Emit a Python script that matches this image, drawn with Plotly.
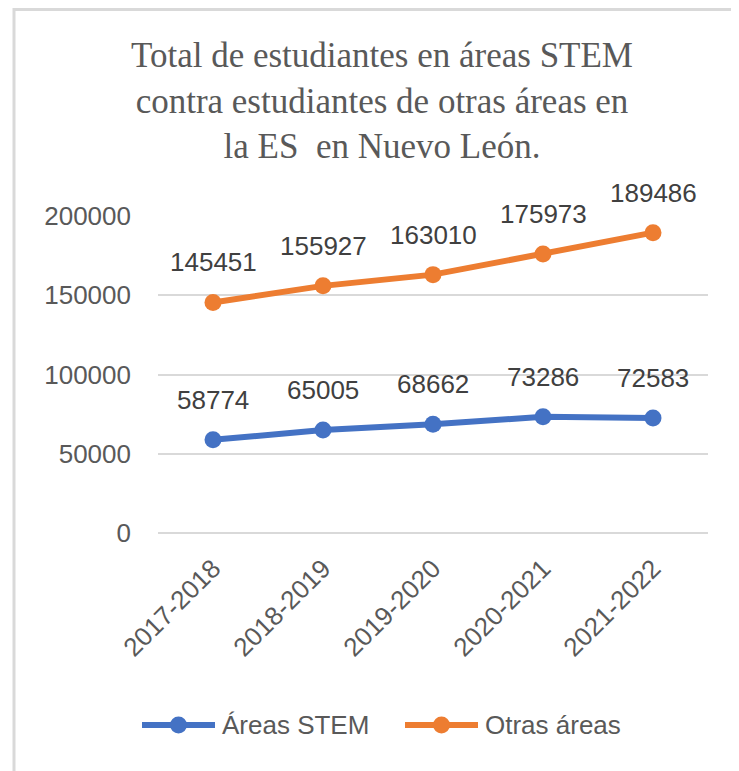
import plotly.graph_objects as go

# Data
periodos = ["2017-2018", "2018-2019", "2019-2020", "2020-2021", "2021-2022"]
areas_stem = [58774, 65005, 68662, 73286, 72583]
otras_areas = [145451, 155927, 163010, 175973, 189486]
y_ticks = [0, 50000, 100000, 150000, 200000]

AZUL = "#4472C4"
NARANJA = "#ED7D31"
GRIS_TEXTO = "#595959"
GRIS_LINEA = "#D9D9D9"
FUENTE = "Liberation Sans, Arial, sans-serif"

# the page puts the figure 8px in from the top-left corner
W, H = 731, 763
L, R, T, B = 150, 31, 208, 238
plot_w = W - L - R
plot_h = H - T - B


def px_x(x):
    return (x - L) / plot_w


def px_y(y):
    return (H - B - y) / plot_h


fig = go.Figure()
shapes = []

# Marco gris del gráfico (borde superior e izquierdo visibles)
shapes.append(dict(
    type="rect", xref="paper", yref="paper",
    x0=px_x(6), x1=px_x(W + 20),
    y0=px_y(H + 20), y1=px_y(1.5),
    line=dict(color=GRIS_LINEA, width=3),
    fillcolor="rgba(0,0,0,0)",
    layer="below",
))

series = [("Áreas STEM", areas_stem, AZUL, 134),
          ("Otras áreas", otras_areas, NARANJA, 397)]

for nombre, valores, color, leg_x in series:
    fig.add_trace(go.Scatter(
        x=periodos,
        y=valores,
        name=nombre,
        mode="lines+markers",
        line=dict(color=color, width=6),
        marker=dict(color=color, size=17),
        cliponaxis=False,
        showlegend=False,
    ))
    # Etiquetas de datos encima de cada punto
    for x, v in zip(periodos, valores):
        fig.add_annotation(
            x=x, y=v, text=str(v),
            showarrow=False, yshift=40,
            font=dict(family=FUENTE, size=26, color="#404040"),
        )

    # Leyenda dibujada a mano (línea larga con marcador como en Excel)
    leg_y = 717
    shapes.append(dict(
        type="line", xref="paper", yref="paper",
        x0=px_x(leg_x), x1=px_x(leg_x + 73),
        y0=px_y(leg_y), y1=px_y(leg_y),
        line=dict(color=color, width=6),
    ))
    shapes.append(dict(
        type="circle", xref="paper", yref="paper",
        x0=px_x(leg_x + 36.5 - 8.5), x1=px_x(leg_x + 36.5 + 8.5),
        y0=px_y(leg_y + 8.5), y1=px_y(leg_y - 8.5),
        line=dict(color=color, width=0),
        fillcolor=color,
    ))
    fig.add_annotation(
        xref="paper", yref="paper",
        x=px_x(leg_x + 78), y=px_y(leg_y),
        xanchor="left", yanchor="middle",
        text=nombre, showarrow=False,
        font=dict(family=FUENTE, size=26, color=GRIS_TEXTO),
    )

fig.update_layout(
    width=W,
    height=H,
    paper_bgcolor="white",
    plot_bgcolor="white",
    margin=dict(l=L, r=R, t=T, b=B, autoexpand=False),
    title=dict(
        text="Total de estudiantes en áreas STEM<br>"
             "contra estudiantes de otras áreas en<br>"
             "la ES  en Nuevo León.",
        font=dict(family="Liberation Serif, Times New Roman, serif", size=35,
                  color=GRIS_TEXTO),
        x=374 / W, xref="container", xanchor="center",
        y=1 - 59 / H, yref="container", yanchor="top",
    ),
    showlegend=False,
    xaxis=dict(
        range=[-0.5, 4.5],
        showgrid=False,
        showline=False,
        ticks="",
        tickangle=-45,
        ticklabelstandoff=14,
        tickfont=dict(family=FUENTE, size=26, color=GRIS_TEXTO),
    ),
    yaxis=dict(
        range=[0, 200000],
        tickvals=y_ticks,
        ticktext=[str(t) for t in y_ticks],
        showgrid=True,
        gridcolor=GRIS_LINEA,
        gridwidth=2,
        zeroline=True,
        zerolinecolor=GRIS_LINEA,
        zerolinewidth=2,
        showline=False,
        ticks="",
        ticklabelstandoff=26,
        tickfont=dict(family=FUENTE, size=26, color=GRIS_TEXTO),
    ),
    shapes=shapes,
)

fig.write_html("out.html")
